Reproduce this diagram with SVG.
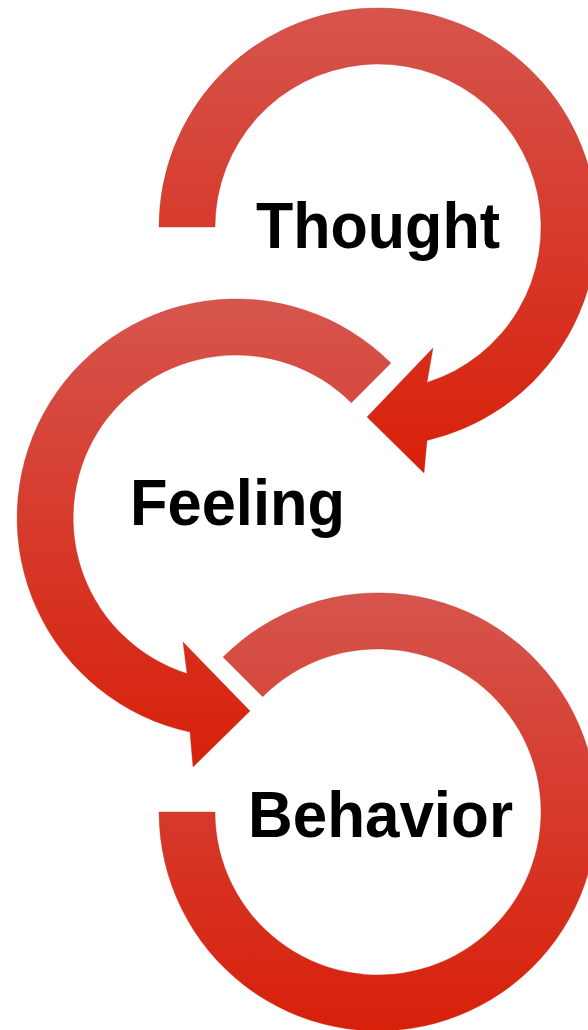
<svg xmlns="http://www.w3.org/2000/svg" width="588" height="1030" viewBox="0 0 588 1030">
  <defs>
    <linearGradient id="redGrad" x1="0" y1="0" x2="0" y2="1">
      <stop offset="0" stop-color="#d6554d"/>
      <stop offset="0.45" stop-color="#d63c2e"/>
      <stop offset="1" stop-color="#d8200a"/>
    </linearGradient>
  </defs>
  <style>
    .ring { fill: url(#redGrad); stroke: #b8281a; stroke-opacity: 0.35; stroke-width: 1; stroke-linejoin: miter; }
    .label { font-family: "Liberation Sans", Arial, sans-serif; font-weight: bold; font-size: 64px; fill: #000000; }
  </style>
  <rect x="0" y="0" width="588" height="1030" fill="#ffffff"/>
  <g id="connectors">
    <path id="arrow-thought" class="ring" d="M159,227 A219,219 0 1 1 427,440.4 L424,473 L367,417 L433,348 L427,382.5 A163,163 0 1 0 215,227 Z"/>
    <path id="arrow-feeling" class="ring" d="M390.9,363.1 A219,219 0 1 0 190,732.1 L193,767 L250,711 L183,642 L187,673.5 A163,163 0 1 1 351.3,402.7 Z"/>
    <path id="ring-behavior" class="ring" d="M159,812 A219,219 0 1 0 223.1,657.1 L262.7,696.7 A163,163 0 1 1 215,812 Z"/>
  </g>
  <g id="node-thought">
    <text class="label" x="256" y="248" textLength="244" lengthAdjust="spacingAndGlyphs">Thought</text>
  </g>
  <g id="node-feeling">
    <text class="label" x="130" y="525" textLength="215" lengthAdjust="spacingAndGlyphs">Feeling</text>
  </g>
  <g id="node-behavior">
    <text class="label" x="248" y="837" textLength="265" lengthAdjust="spacingAndGlyphs">Behavior</text>
  </g>
</svg>
